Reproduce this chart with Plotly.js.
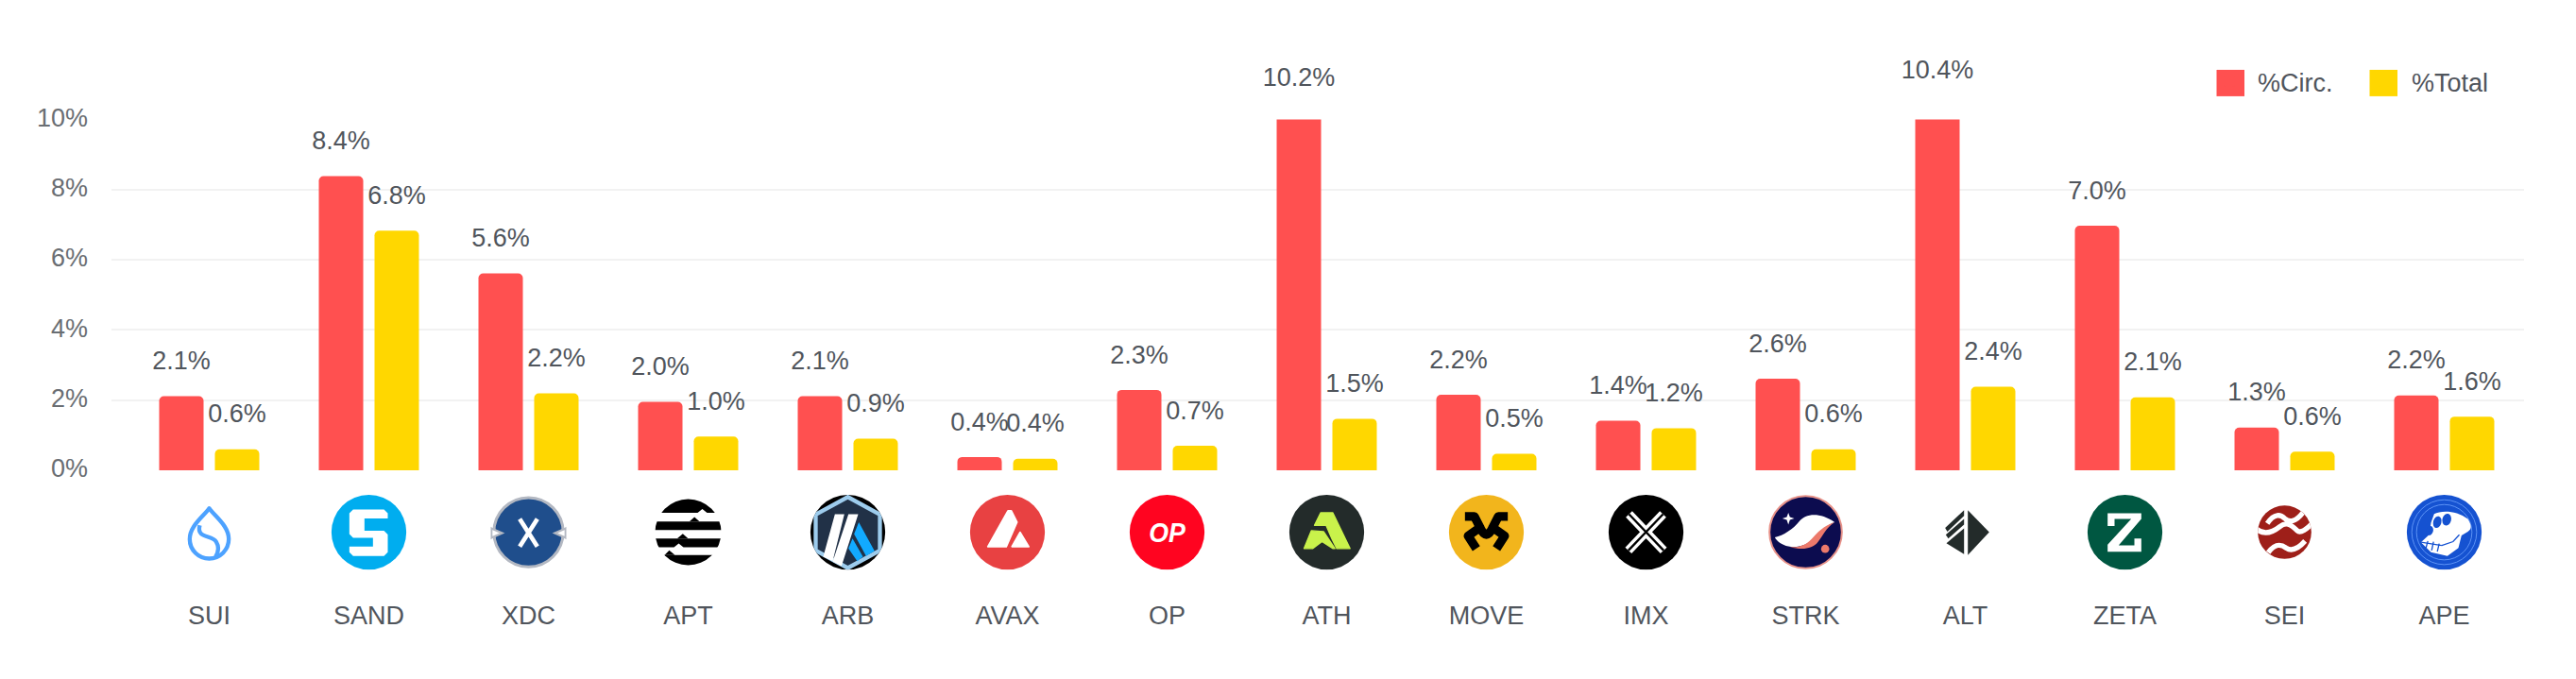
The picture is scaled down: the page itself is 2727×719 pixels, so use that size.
<!DOCTYPE html>
<html>
<head>
<meta charset="utf-8">
<script src="https://cdn.plot.ly/plotly-3.0.1.min.js"></script>
<style>html,body{margin:0;padding:0;background:#fff}#chart{width:2727px;height:719px}</style>
</head>
<body>
<div id="chart"></div>
<script>
const categories = ['SUI','SAND','XDC','APT','ARB','AVAX','OP','ATH','MOVE','IMX','STRK','ALT','ZETA','SEI','APE'];
const circValues = [2.11,8.38,5.61,1.95,2.11,0.38,2.29,10.2,2.15,1.41,2.61,10.4,6.97,1.22,2.13];
const totalValues = [0.60,6.83,2.19,0.96,0.90,0.33,0.70,1.47,0.47,1.20,0.60,2.38,2.08,0.53,1.53];
const circLabels = ['2.1%','8.4%','5.6%','2.0%','2.1%','0.4%','2.3%','10.2%','2.2%','1.4%','2.6%','10.4%','7.0%','1.3%','2.2%'];
const totalLabels = ['0.6%','6.8%','2.2%','1.0%','0.9%','0.4%','0.7%','1.5%','0.5%','1.2%','0.6%','2.4%','2.1%','0.6%','1.6%'];
const yTicks = [0,2,4,6,8,10];

const RED = '#FF5050', YELLOW = '#FFD700', TEXT = '#50555C', AXIS_TEXT = '#6A6E73';
const FONT = '"Liberation Sans", Arial, sans-serif';

// Token logos (240-unit artwork), keyed by symbol
const logos = {
SUI:`<path d="M120 44C140 72 182 100 182 142a62 62 0 0 1-124 0C58 100 100 72 120 44Z" fill="none" stroke="#4DA2FF" stroke-width="13" stroke-linejoin="round"/><path d="M90 98C78 140 128 128 142 150C152 166 150 182 140 198" fill="none" stroke="#4DA2FF" stroke-width="13"/>`,
SAND:`<circle cx="120" cy="120" r="119" fill="#00ADEF"/><path d="M70 48H168L180 60V76H106V115H168L180 127V184L168 196H70L58 184V166H133V138H70L58 126V60Z" fill="#fff"/>`,
XDC:`<circle cx="120" cy="120" r="110" fill="#1F4E8C" stroke="#B3B8C2" stroke-width="9"/><path d="M2 108L36 123L2 138ZM238 108L204 123L238 138Z" fill="#fff" stroke="#B3B8C2" stroke-width="7"/><path d="M92 78L148 166M148 78L92 166" stroke="#fff" stroke-width="14"/>`,
APT:`<circle cx="120" cy="120" r="105" fill="#000"/><path d="M0 58H150L165 46L180 58H240V86H0ZM0 113H240V140H0ZM0 168H75L90 156L105 168H240V193H0Z" fill="#fff"/><path d="M124 86L140 72L156 86ZM85 140L103 125L120 140ZM45 193L60 178L78 193Z" fill="#000"/>`,
ARB:`<clipPath id="c"><circle cx="120" cy="120" r="119"/></clipPath><g clip-path="url(#c)"><rect width="240" height="240"/><path d="M120 8L222 64V178L120 234L18 178V64Z" fill="#213147" stroke="#9DCCED" stroke-width="13"/><path d="M155 88L205 180L178 196L140 126ZM135 140L168 198L150 212L122 172Z" fill="#12AAFF"/><path d="M79 63H109L72 212L42 198ZM122 63H153L100 228L72 214Z" fill="#fff"/></g>`,
AVAX:`<circle cx="120" cy="120" r="119" fill="#E84142"/><path d="M122 52L132 52L150 88L116 166L58 166Z" fill="#fff" stroke="#fff" stroke-width="6" stroke-linejoin="round"/><path d="M160 120L188 166H134Z" fill="#fff" stroke="#fff" stroke-width="5" stroke-linejoin="round"/>`,
OP:`<circle cx="120" cy="120" r="119" fill="#FF0420"/><text x="120" y="152" text-anchor="middle" font-family="Liberation Sans" font-weight="bold" font-style="italic" font-size="88" textLength="116" lengthAdjust="spacingAndGlyphs" fill="#fff">OP</text>`,
ATH:`<circle cx="120" cy="120" r="119" fill="#232B2A"/><g fill="#C9F24B" stroke="#C9F24B" stroke-width="4" stroke-linejoin="round"><path d="M81 98L101 58H139L194 172H152L136 140L118 98Z"/><path d="M71 115L110 118L146 172L140 172L105 150L75 172H48Z"/></g>`,
MOVE:`<circle cx="120" cy="120" r="119" fill="#F2B51C"/><path d="M52 70H82L100 105L62 132L88 172M188 70H158L140 105L178 132L152 172M100 105Q120 150 140 105" fill="none" stroke="#000" stroke-width="28" stroke-linejoin="round"/>`,
IMX:`<circle cx="120" cy="120" r="119" fill="#000"/><path d="M66 63L176 178M174 63L64 178" stroke="#fff" stroke-width="28"/><path d="M66 63L176 178M174 63L64 178" stroke="#000" stroke-width="7"/>`,
STRK:`<circle cx="120" cy="120" r="115" fill="#0C0C4F" stroke="#E8938A" stroke-width="6"/><path d="M65 58L70 72L84 76L70 81L65 96L60 81L46 76L60 72Z" fill="#fff"/><path d="M22 136C50 130 80 110 100 85C120 60 165 55 212 88C190 95 170 115 150 135C125 165 90 170 65 165C45 160 30 150 22 136Z" fill="#fff"/><path d="M212 88C185 105 175 130 160 150C140 178 100 175 70 167C100 170 125 160 145 135C165 110 190 95 212 88Z" fill="#EC796B"/><circle cx="182" cy="173" r="13" fill="#EC796B"/>`,
ALT:`<g fill="#232B2A"><path d="M128 50L196 120L128 193Z"/><path d="M60 155L116 108V190Z"/><path d="M56 106L116 50V68L63 118Z"/><path d="M58 128L116 78V96L66 140Z"/></g>`,
ZETA:`<circle cx="120" cy="120" r="119" fill="#005741"/><path d="M65 60H172V78L100 162H150V140H172V182H65V160L140 78H87V100H65Z" fill="#fff"/>`,
SEI:`<clipPath id="c"><circle cx="120" cy="120" r="85"/></clipPath><g clip-path="url(#c)"><rect width="240" height="240" fill="#9E1F19"/><path d="M65 92C88 58 108 64 120 76C135 90 155 88 178 58M25 105C55 135 85 118 105 102C125 86 140 95 160 115C170 125 190 112 215 85M68 185C90 155 108 158 125 170C140 180 160 176 185 148" fill="none" stroke="#fff" stroke-width="16"/></g>`,
APE:`<circle cx="120" cy="120" r="119" fill="#1552D1"/><g fill="none" stroke="#5C93F5" stroke-width="3"><circle cx="120" cy="120" r="103"/><circle cx="120" cy="120" r="88"/></g><path d="M88 62C110 50 160 50 195 78C208 100 208 110 195 118L175 130L165 170L130 196L78 184L46 152L72 128L78 90Z" fill="#fff"/><g fill="#1552D1"><ellipse cx="98" cy="88" rx="13" ry="19" transform="rotate(15 98 88)"/><ellipse cx="128" cy="80" rx="14" ry="19" transform="rotate(15 128 80)"/><ellipse cx="74" cy="115" rx="11" ry="15" transform="rotate(15 74 115)"/></g><path d="M46 152L112 162M62 170L68 148M80 178L86 150M98 182L104 156M112 162L148 150L168 128" fill="none" stroke="#1552D1" stroke-width="4"/>`
};

const svgUri = body => 'data:image/svg+xml,' + encodeURIComponent(
  `<svg xmlns="http://www.w3.org/2000/svg" viewBox="0 0 240 240" width="240" height="240">${body}</svg>`);

// Pixel frame: bars live between plotT and plotB; the labels' axis runs on up to the page top
const W = 2727, H = 719;
const plotL = 118, plotR = 2672, plotT = 126.5, plotB = 498.4;
const paperX = px => (px - plotL) / (plotR - plotL);
const paperY = px => (plotB - px) / plotB;
const step = 169;
const barOffset = 59.1 / step;
const pxPerUnit = (plotB - plotT) / 10;
const xs = categories.map((_, i) => i);

const labelTrace = (offset, vals, labels) => ({
  type: 'scatter', mode: 'markers+text', x: xs.map(x => x + offset / 2), y: vals, yaxis: 'y2', text: labels,
  textposition: 'top center', cliponaxis: false, showlegend: false, hoverinfo: 'skip',
  marker: {size: 33, opacity: 0},
  textfont: {family: FONT, size: 27, color: TEXT}
});

const data = [
  {type: 'bar', name: '%Circ.', x: xs, y: circValues, marker: {color: RED}},
  {type: 'bar', name: '%Total', x: xs, y: totalValues, marker: {color: YELLOW}},
  labelTrace(-barOffset, circValues, circLabels),
  labelTrace(barOffset, totalValues, totalLabels)
];

const swatch = (x0, x1, color) => ({
  type: 'rect', xref: 'paper', yref: 'paper', layer: 'above',
  x0: paperX(x0), x1: paperX(x1), y0: paperY(102), y1: paperY(74),
  fillcolor: color, line: {width: 0}
});

const layout = {
  width: W, height: H,
  margin: {l: plotL, r: W - plotR, t: 0, b: H - plotB, pad: 0, autoexpand: false},
  paper_bgcolor: '#fff', plot_bgcolor: 'rgba(0,0,0,0)',
  font: {family: FONT, size: 27, color: TEXT},
  barmode: 'group', bargap: 0.302, bargroupgap: 0.203, barcornerradius: 5,
  xaxis: {
    range: [-0.5 - 19 / step, 14.5], tickmode: 'array', tickvals: xs, ticktext: categories,
    showgrid: false, zeroline: false, showline: false, ticks: '',
    ticklabelstandoff: 135, tickfont: {family: FONT, size: 27, color: TEXT}
  },
  yaxis: {
    domain: [0, paperY(plotT)],
    range: [0, 10], tickmode: 'array', tickvals: yTicks, ticktext: yTicks.map(v => v + '%'),
    showgrid: true, gridcolor: '#F2F2F2', gridwidth: 2, zeroline: false, showline: false, ticks: '',
    ticklabelstandoff: 24, ticklabelshift: -2, tickfont: {family: FONT, size: 27, color: AXIS_TEXT}
  },
  yaxis2: {
    domain: [0, 1], anchor: 'x', range: [0, plotB / pxPerUnit],
    visible: false, showgrid: false, zeroline: false, fixedrange: true
  },
  showlegend: true,
  legend: {
    orientation: 'h', x: paperX(2330), y: paperY(86.5), xanchor: 'left', yanchor: 'middle',
    itemwidth: 50, entrywidth: 98, entrywidthmode: 'pixels', traceorder: 'normal',
    bgcolor: 'rgba(0,0,0,0)', font: {family: FONT, size: 27, color: TEXT}
  },
  shapes: [swatch(2346.5, 2376, RED), swatch(2508.5, 2538, YELLOW)],
  images: categories.map((c, i) => ({
    source: svgUri(logos[c]), xref: 'x', yref: 'paper', x: i, y: paperY(564),
    sizex: 80 / step, sizey: 80 / plotB, xanchor: 'center', yanchor: 'middle',
    sizing: 'stretch', layer: 'above'
  }))
};

Plotly.newPlot('chart', data, layout, {displayModeBar: false, responsive: false});
</script>
</body>
</html>
